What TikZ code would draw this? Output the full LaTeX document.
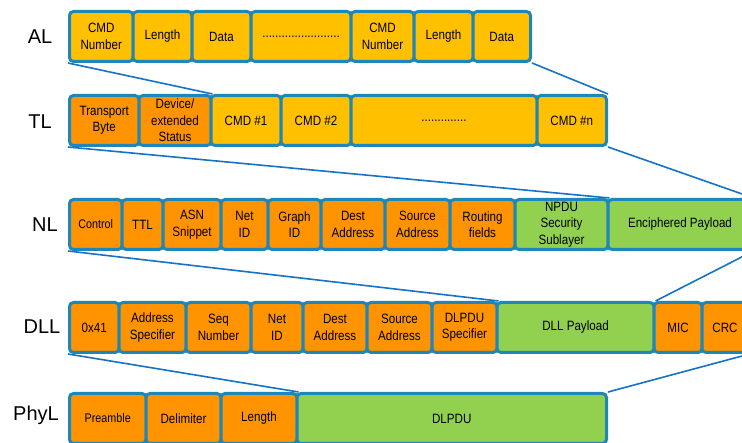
\documentclass[tikz,border=0pt]{standalone}
\usepackage{fontspec}
\usepackage{tikz}
\setmainfont{Liberation Sans}
\newfontfamily\fieldfont{Liberation Sans}[FakeStretch=0.86]
\definecolor{hartorange}{RGB}{255,147,0}
\definecolor{hartamber}{RGB}{255,192,0}
\definecolor{hartgreen}{RGB}{146,208,80}
\definecolor{framecol}{RGB}{30,135,185}
\definecolor{linkblue}{RGB}{20,115,200}

\begin{document}
\begin{tikzpicture}[x=1pt, y=-1pt,
    fld/.style={draw=framecol, line width=3pt, rounded corners=4pt, inner sep=0pt,
        minimum height=50pt, align=center, font=\fieldfont\fontsize{13.5}{16.5}\selectfont},
    smallfld/.style={fld, font=\fieldfont\fontsize{12.5}{14}\selectfont},
    layer/.style={font=\fontsize{20}{22}\selectfont},
    link/.style={draw=linkblue, line width=1.6pt}]
    \useasboundingbox (0,0) rectangle (742,443);
    \clip (0,0) rectangle (742,443);

    % Layer names
    \node[layer] (lal) at (40,37) {AL};
    \node[layer] (ltl) at (40,122) {TL};
    \node[layer] (lnl) at (45,225) {NL};
    \node[layer] (ldll) at (42,327) {DLL};
    \node[layer] (lphy) at (36,415) {PhyL};

    % AL
    \node[fld, fill=hartamber, minimum width=63.5pt] (al1) at (101.25,36.5) {CMD\\Number};
    \node[fld, fill=hartamber, minimum width=59pt] (al2) at (162.5,36.5) {Length};
    \node[fld, fill=hartamber, minimum width=59pt] (al3) at (221.5,36.5) {Data};
    \node[fld, fill=hartamber, minimum width=100pt] (al4) at (301,36.5) {........................};
    \node[fld, fill=hartamber, minimum width=63pt] (al5) at (382.5,36.5) {CMD\\Number};
    \node[fld, fill=hartamber, minimum width=59pt] (al6) at (443.5,36.5) {Length};
    \node[fld, fill=hartamber, minimum width=57.5pt] (al7) at (501.75,36.5) {Data};

    % TL
    \node[fld, fill=hartorange, minimum width=69.5pt] (tl1) at (104.25,120.5) {Transport\\Byte};
    \node[fld, fill=hartorange, minimum width=72pt] (tl2) at (175,120.5) {Device/\\extended\\Status};
    \node[fld, fill=hartamber, minimum width=70pt] (tl3) at (246,120.5) {CMD \#1};
    \node[fld, fill=hartamber, minimum width=70pt] (tl4) at (316,120.5) {CMD \#2};
    \node[fld, fill=hartamber, minimum width=186pt] (tl5) at (444,120.5) {..............};
    \node[fld, fill=hartamber, minimum width=69.5pt] (tl6) at (571.75,120.5) {CMD \#n};

    % NL
    \node[smallfld, fill=hartorange, minimum width=52.5pt] (nl1) at (95.75,224.5) {Control};
    \node[fld, fill=hartorange, minimum width=41pt] (nl2) at (142.5,224.5) {TTL};
    \node[fld, fill=hartorange, minimum width=58pt] (nl3) at (192,224.5) {ASN\\Snippet};
    \node[fld, fill=hartorange, minimum width=47pt] (nl4) at (244.5,224.5) {Net\\ID};
    \node[fld, fill=hartorange, minimum width=53pt] (nl5) at (294.5,224.5) {Graph\\ID};
    \node[fld, fill=hartorange, minimum width=64pt] (nl6) at (353,224.5) {Dest\\Address};
    \node[fld, fill=hartorange, minimum width=65pt] (nl7) at (417.5,224.5) {Source\\Address};
    \node[fld, fill=hartorange, minimum width=65pt] (nl8) at (482.5,224.5) {Routing\\fields};
    \node[fld, fill=hartgreen, minimum width=93pt] (nl9) at (561.5,224.5) {NPDU\\Security\\Sublayer};
    \node[fld, fill=hartgreen, minimum width=144pt] (nl10) at (680,224.5) {Enciphered Payload};

    % DLL
    \node[fld, fill=hartorange, minimum width=49.5pt] (dl1) at (94.25,327.5) {0x41};
    \node[fld, fill=hartorange, minimum width=67pt] (dl2) at (152.5,327.5) {Address\\Specifier};
    \node[fld, fill=hartorange, minimum width=65pt] (dl3) at (218.5,327.5) {Seq\\Number};
    \node[fld, fill=hartorange, minimum width=52pt] (dl4) at (277,327.5) {Net\\ID};
    \node[fld, fill=hartorange, minimum width=64pt] (dl5) at (335,327.5) {Dest\\Address};
    \node[fld, fill=hartorange, minimum width=65pt] (dl6) at (399.5,327.5) {Source\\Address};
    \node[fld, fill=hartorange, minimum width=65pt] (dl7) at (464.5,327.5) {DLPDU\\Specifier};
    \node[fld, fill=hartgreen, minimum width=157pt] (dl8) at (575.5,327.5) {DLL Payload};
    \node[fld, fill=hartorange, minimum width=48pt] (dl9) at (678,327.5) {MIC};
    \node[fld, fill=hartorange, minimum width=46pt] (dl10) at (725,327.5) {CRC};

    % PhyL
    \node[smallfld, fill=hartorange, minimum width=76.5pt] (ph1) at (107.75,418.5) {Preamble};
    \node[fld, fill=hartorange, minimum width=75pt] (ph2) at (183.5,418.5) {Delimiter};
    \node[fld, fill=hartorange, minimum width=76pt] (ph3) at (259,418.5) {Length};
    \node[fld, fill=hartgreen, minimum width=309.5pt] (ph4) at (451.75,418.5) {DLPDU};

    % Connections
    \draw[link] (al1.south west) -- (tl2.north east);
    \draw[link] (al7.south east) -- (tl6.north east);
    \draw[link] (tl1.south west) -- (nl9.north east);
    \draw[link] (tl6.south east) -- (nl10.north east);
    \draw[link] (nl1.south west) -- (dl7.north east);
    \draw[link] (nl10.south east) -- (dl8.north east);
    \draw[link] (dl1.south west) -- (ph3.north east);
    \draw[link] (dl10.south east) -- (ph4.north east);
\end{tikzpicture}
\end{document}
